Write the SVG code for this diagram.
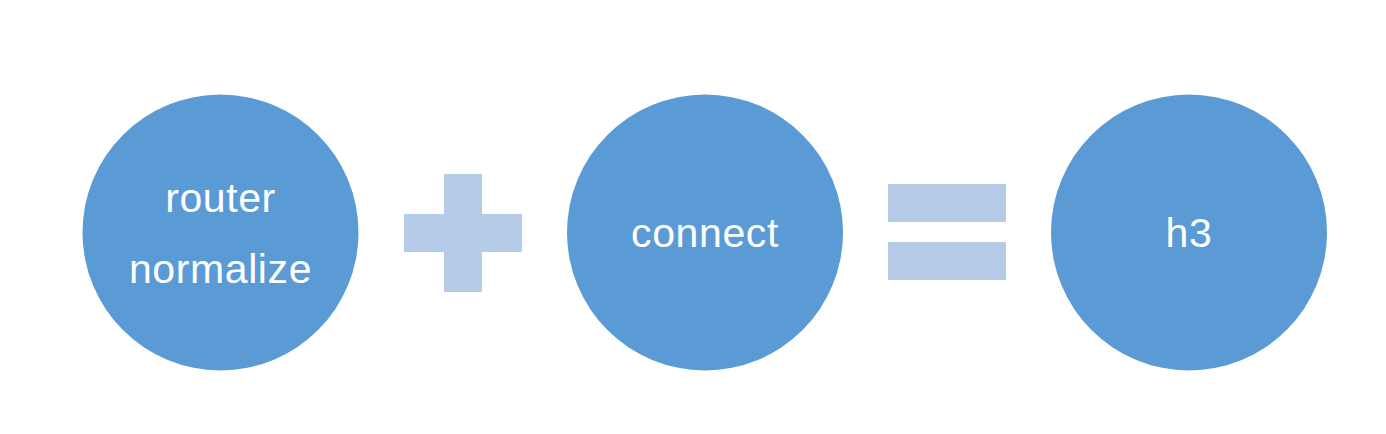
<svg xmlns="http://www.w3.org/2000/svg" width="1386" height="434" viewBox="0 0 1386 434">
<style>
.c{fill:#5B9BD5}
.op{fill:#B5CBE7}
.t{font-family:"Liberation Sans",Arial,Helvetica,sans-serif;font-size:41px;letter-spacing:0.6px;fill:#ffffff;text-anchor:middle}
</style>
<rect width="1386" height="434" fill="#ffffff"/>
<g id="node-router-normalize">
<circle class="c" cx="220.5" cy="232.5" r="138"/>
<text class="t" x="220.5" y="212">router</text>
<text class="t" x="220.5" y="283">normalize</text>
</g>
<g id="connectors">
<g id="plus">
<rect class="op" x="444" y="174" width="38" height="118"/>
<rect class="op" x="404" y="214" width="118" height="38"/>
</g>
<g id="equals">
<rect class="op" x="888" y="184" width="118" height="38"/>
<rect class="op" x="888" y="242" width="118" height="38"/>
</g>
</g>
<g id="node-connect">
<circle class="c" cx="705" cy="232.5" r="138"/>
<text class="t" x="705" y="247">connect</text>
</g>
<g id="node-h3">
<circle class="c" cx="1189" cy="232.5" r="138"/>
<text class="t" x="1189" y="247">h3</text>
</g>
</svg>
